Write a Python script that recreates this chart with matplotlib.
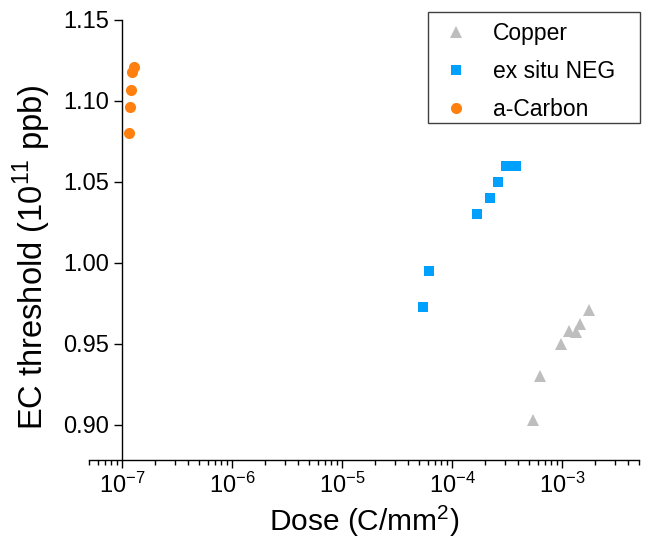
import numpy as np
import matplotlib
matplotlib.use("Agg")
import matplotlib.pyplot as plt
from matplotlib.patches import Rectangle
from matplotlib.ticker import LogLocator, NullFormatter

plt.rcParams["font.family"] = ["Liberation Sans", "DejaVu Sans"]
plt.rcParams["mathtext.fontset"] = "custom"
plt.rcParams["mathtext.rm"] = "Liberation Sans"
plt.rcParams["axes.unicode_minus"] = False

# data
copper_dose = [5.47e-4, 6.3e-4, 0.98e-3, 1.15e-3, 1.33e-3, 1.45e-3, 1.77e-3]
copper_ec = [0.903, 0.930, 0.950, 0.958, 0.957, 0.962, 0.971]

neg_dose = [5.47e-5, 6.17e-5, 1.70e-4, 2.20e-4, 2.64e-4, 3.08e-4, 3.84e-4]
neg_ec = [0.973, 0.995, 1.030, 1.040, 1.050, 1.060, 1.060]

carbon_dose = [1.15e-7, 1.18e-7, 1.21e-7, 1.24e-7, 1.29e-7]
carbon_ec = [1.080, 1.096, 1.107, 1.118, 1.121]

W, H = 647, 546
fig = plt.figure(figsize=(W / 100, H / 100), dpi=100)
ax = fig.add_axes([89 / W, 1 - 459.5 / H, 550 / W, 439.5 / H])

ax.plot(copper_dose, copper_ec, "^", color="#BEBEBE", ms=9, mew=0, label="Copper")
ax.plot(neg_dose, neg_ec, "s", color="#00A0FF", ms=7.5, mew=0, label="ex situ NEG")
ax.plot(carbon_dose, carbon_ec, "o", color="#FF800E", ms=8, mew=0, label="a-Carbon")

ax.set_xscale("log")
ax.set_xlim(5e-8, 5e-3)
ax.set_ylim(0.8785, 1.15)
ax.set_yticks([0.90, 0.95, 1.00, 1.05, 1.10, 1.15])
ax.set_yticklabels(["0.90", "0.95", "1.00", "1.05", "1.10", "1.15"])
ax.xaxis.set_major_locator(LogLocator(base=10, numticks=20))
ax.xaxis.set_minor_locator(LogLocator(base=10, subs=np.arange(2, 10), numticks=20))
ax.xaxis.set_minor_formatter(NullFormatter())

ax.spines["top"].set_visible(False)
ax.spines["right"].set_visible(False)
ax.spines["left"].set_position(("data", 1e-7))
for s in ["left", "bottom"]:
    ax.spines[s].set_linewidth(1.0)

ax.tick_params(axis="both", which="major", direction="out", length=6, width=1.0,
               labelsize=17)
ax.tick_params(axis="x", which="minor", direction="out", length=3.5, width=1.0)
ax.tick_params(axis="y", which="minor", left=False)

ax.set_xlabel("Dose (C/mm$^2$)", fontsize=21.5, labelpad=4)
ax.set_ylabel("EC threshold (10$^{11}$ ppb)", fontsize=23.5)
ax.yaxis.set_label_coords(-0.066, 0.46)

# legend frame drawn by hand so it matches the reference box
fig.patches.append(Rectangle((428 / W, 1 - 123 / H), 212 / W, 111 / H,
                             transform=fig.transFigure, fill=False,
                             edgecolor="#404040", linewidth=1.0))
leg = ax.legend(loc="upper left", bbox_to_anchor=(428 / W, 1 - 12 / H),
                bbox_transform=fig.transFigure, borderaxespad=0, fontsize=16.5,
                frameon=False, handletextpad=0.84, borderpad=0.45,
                labelspacing=0.65, handlelength=1.55)

fig.savefig("out.png", dpi=100)
